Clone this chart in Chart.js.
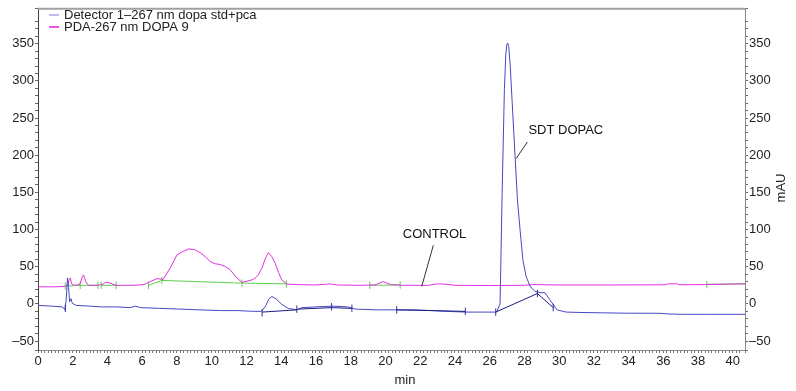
<!DOCTYPE html>
<html>
<head>
<meta charset="utf-8">
<script src="https://cdn.jsdelivr.net/npm/chart.js@4"></script>
<style>
  html, body { margin: 0; padding: 0; background: #fff; }
</style>
</head>
<body>
<canvas id="chart" width="796" height="391"></canvas>
<script>
// Detector 1 - 267 nm dopa std+pca (time in min, mAU)
const detTime = [0, 0.8, 1.4, 1.55, 1.62, 1.7, 1.76, 1.82, 1.9, 1.97, 2.2, 3.0, 3.6, 4.5, 5.3, 5.6, 5.9, 7.0, 8.2, 9.3,
  10.5, 11.5, 12.4, 12.85, 13.1, 13.3, 13.46, 13.7, 14.0, 14.4, 14.9, 15.2, 16.0, 17.0, 17.8, 18.3, 19.5, 20.6, 21.6, 22.7,
  23.5, 24.6, 25.5, 26.4, 26.6, 26.72, 26.85, 26.93, 26.99, 27.04, 27.1, 27.18, 27.3, 27.46, 27.6, 27.75, 27.92, 28.1, 28.32, 28.6,
  28.9, 29.19, 29.45, 29.88, 30.4, 31.2, 32.5, 34.0, 35.8, 36.3, 37.0, 38.5, 40.7];
const detValue = [-2, -3, -4, -8, 5, 35, 22, 3, 7, 1, -2, -3, -4, -4, -5, -3, -5, -6, -7, -8,
  -9, -9, -10, -10, -3, 7, 10, 7, 0, -6, -8, -5, -4, -3, -4, -7, -8, -8, -8, -9,
  -10, -11, -11, -11, 0, 150, 290, 335, 349, 351, 346, 322, 270, 200, 140, 100, 58, 37, 24, 17,
  15, 15, 6, -8, -11, -11.5, -12, -12.5, -12.6, -13.5, -14, -14, -14];

// PDA - 267 nm DOPA 9
const pdaTime = [0, 1.0, 1.5, 1.7, 1.8, 1.86, 1.93, 2.1, 2.4, 2.55, 2.62, 2.75, 2.9, 3.4, 3.7, 3.9, 4.05, 4.25, 4.5, 5.5,
  6.1, 6.46, 6.85, 7.2, 7.6, 8.0, 8.3, 8.67, 9.0, 9.34, 9.7, 9.91, 10.2, 10.49, 10.8, 11.06, 11.3, 11.45, 11.74, 12.1,
  12.4, 12.65, 12.89, 13.1, 13.27, 13.45, 13.65, 13.85, 14.04, 14.33, 15.0, 16.0, 16.6, 16.8, 17.2, 18.5, 19.4, 19.87, 20.3, 21.0,
  22.5, 23.0, 23.5, 24.0, 26.0, 28.0, 28.5, 30.0, 33.0, 36.1, 36.3, 36.8, 36.9, 38.4, 40.7];
const pdaValue = [23, 23, 23.5, 25, 33, 35, 27, 25, 26, 36, 39, 30, 25, 25, 26, 29, 29, 27, 25, 25,
  26, 30, 34, 33, 48, 66, 70, 74, 73, 69, 62, 57, 54, 53, 50, 46, 39, 35, 29, 31,
  33, 38, 48, 62, 69, 64, 55, 42, 32, 26.6, 26, 25.5, 26.5, 27, 25.5, 25, 25.5, 30, 26, 25,
  25, 27, 26.5, 25, 24.7, 25, 26, 25.5, 25.5, 25.7, 27, 27, 25.7, 26, 27];

// integration baselines (null = gap)
const detBaseTime = [12.9, 14.9, 14.95, 14.95, 16.9, 18.07, 19, 20.65, 24.6, 25, 26.35, 28.75, 29.66];
const detBaseValue = [-11, -8, null, -7, -5, -6, null, -8, -10, null, -11, 14, -5];
const pdaBaseTime = [1.57, 2.43, 2.44, 2.45, 3.45, 3.55, 3.64, 4.5, 5, 6.36, 7.13, 11.74, 14.3, 16, 19.1, 20.85, 30, 38.5, 40.7];
const pdaBaseValue = [24, 25, null, 25, 25, null, 25, 25, null, 25, 31.6, 28, 27, null, 25, 25.5, null, 26.5, 27];

// peak start / end markers
const detMarkTime = [1.57, 12.9, 14.9, 16.9, 18.07, 20.65, 24.6, 26.35, 28.75, 29.66];
const detMarkValue = [-6, -12, -7, -4, -6, -8, -10, -11, 14, -5];
const pdaMarkTime = [1.57, 2.43, 3.45, 3.64, 4.5, 6.36, 7.13, 11.74, 14.3, 19.1, 20.85, 38.5];
const pdaMarkValue = [24, 25, 25, 25, 25, 25, 31.6, 28, 27, 25, 25.5, 26];

// labelled peaks
const annoText = ["SDT DOPAC", "CONTROL"];
const annoTime = [28.23, 21.0];
const annoValue = [233.5, 93.5];
const leaderFrom = [[28.17, 217.8], [22.76, 79]];
const leaderTo = [[27.52, 195.4], [22.09, 23.5]];

const yTickValues = [-50, 0, 50, 100, 150, 200, 250, 300, 350];

const FONT = "Liberation Sans, Arial, sans-serif";

function pts(xs, ys) {
  return xs.map((x, i) => ({ x: x, y: ys[i] }));
}
function marks(xs, ys) {
  const out = [];
  xs.forEach((x, i) => {
    out.push({ x: x, y: ys[i] - 5 }, { x: x, y: ys[i] + 5 }, { x: x, y: null });
  });
  return out;
}
function fmtY(v) {
  if (!yTickValues.includes(v)) return "";
  return v < 0 ? "\u2013" + Math.abs(v) : String(v);
}

const lineDs = (label, data, color) => ({
  label: label,
  data: data,
  borderColor: color,
  borderWidth: 1,
  pointRadius: 0,
  fill: false,
  tension: 0,
  spanGaps: false,
});

const extras = {
  id: "extras",
  afterDraw(chart) {
    const ctx = chart.ctx;
    const xs = chart.scales.x, ys = chart.scales.y;
    const area = chart.chartArea;
    ctx.save();
    // top frame line
    ctx.strokeStyle = "#a0a0a0";
    ctx.lineWidth = 2;
    ctx.beginPath();
    ctx.moveTo(area.left, area.top);
    ctx.lineTo(area.right, area.top);
    ctx.stroke();

    // legend
    ctx.font = "13px " + FONT;
    ctx.textBaseline = "middle";
    ctx.textAlign = "left";
    const legend = [["Detector 1\u2013267 nm dopa std+pca", "#a8a8e8"], ["PDA-267 nm DOPA 9", "#e020e0"]];
    legend.forEach((item, i) => {
      const y = 15 + i * 12;
      ctx.strokeStyle = item[1];
      ctx.lineWidth = 1.5;
      ctx.beginPath();
      ctx.moveTo(49, y);
      ctx.lineTo(59, y);
      ctx.stroke();
      ctx.fillStyle = "#222";
      ctx.fillText(item[0], 64, y);
    });

    // peak labels + leader lines
    annoText.forEach((t, i) => {
      ctx.fillStyle = "#111";
      ctx.fillText(t, xs.getPixelForValue(annoTime[i]), ys.getPixelForValue(annoValue[i]));
      ctx.strokeStyle = "#333";
      ctx.lineWidth = 1;
      ctx.beginPath();
      ctx.moveTo(xs.getPixelForValue(leaderFrom[i][0]), ys.getPixelForValue(leaderFrom[i][1]));
      ctx.lineTo(xs.getPixelForValue(leaderTo[i][0]), ys.getPixelForValue(leaderTo[i][1]));
      ctx.stroke();
    });

    // axis titles
    ctx.fillStyle = "#222";
    ctx.textAlign = "center";
    ctx.fillText("min", 405, 380);
    ctx.translate(781, 188);
    ctx.rotate(-Math.PI / 2);
    ctx.fillText("mAU", 0, 0);
    ctx.restore();
  },
};

const yAxis = (position, width, color) => ({
  type: "linear",
  position: position,
  min: -62,
  max: 397,
  afterFit: (s) => { s.width = width; },
  border: { display: true, color: color, width: 1 },
  grid: { drawOnChartArea: false, tickLength: 3, color: "#666" },
  ticks: {
    stepSize: 10,
    autoSkip: false,
    padding: 1,
    color: "#222",
    font: { family: FONT, size: 13 },
    callback: (v) => fmtY(v),
  },
});

new Chart(document.getElementById("chart"), {
  type: "line",
  data: {
    datasets: [
      lineDs("detBase", pts(detBaseTime, detBaseValue), "#1c1c80"),
      lineDs("detMarks", marks(detMarkTime, detMarkValue), "#3030a0"),
      lineDs("Detector 1\u2013267 nm dopa std+pca", pts(detTime, detValue), "#4848c4"),
      lineDs("PDA-267 nm DOPA 9", pts(pdaTime, pdaValue), "#e030e0"),
      lineDs("pdaBase", pts(pdaBaseTime, pdaBaseValue), "#60d050"),
      lineDs("pdaMarks", marks(pdaMarkTime, pdaMarkValue), "#60d050"),
    ],
  },
  options: {
    responsive: false,
    animation: false,
    devicePixelRatio: 1,
    layout: { padding: { top: 8, left: 0, right: 0, bottom: 0 } },
    plugins: { legend: { display: false }, tooltip: { enabled: false } },
    scales: {
      x: {
        type: "linear",
        min: 0,
        max: 40.7,
        afterFit: (s) => { s.height = 41; },
        border: { display: true, color: "#888", width: 1 },
        grid: { drawOnChartArea: false, tickLength: 3, color: "#777" },
        ticks: {
          stepSize: 0.2,
          autoSkip: false,
          maxRotation: 0,
          padding: 1,
          color: "#222",
          font: { family: FONT, size: 13 },
          callback: (v) => {
            const r = Math.round(v);
            return Math.abs(v - r) < 1e-6 && r % 2 === 0 ? String(r) : "";
          },
        },
      },
      y: yAxis("left", 38, "#444"),
      y2: yAxis("right", 51, "#888"),
    },
  },
  plugins: [extras],
});
</script>
</body>
</html>
